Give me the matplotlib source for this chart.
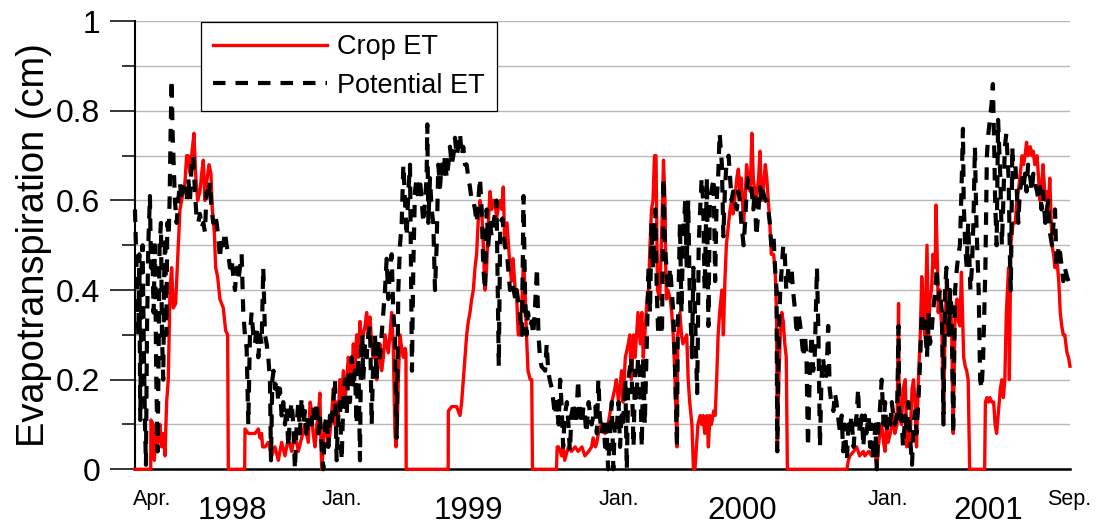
import matplotlib.pyplot as plt
from matplotlib.ticker import MultipleLocator, FormatStrFormatter

plt.rcParams['font.family'] = ['Liberation Sans', 'DejaVu Sans']

# x = days since 1 Apr 1998, y = evapotranspiration (cm)
pet_day = [0, 1.3, 2.7, 4.5, 5.8, 7.1, 8.9, 10.2, 11.6, 13.4, 14.7, 16, 17.8, 20, 21.4, 23.2, 24.9, 26.7, 28.5, 30.3,
           31.6, 32.9, 34.7, 36.1, 37.8, 39.2, 40.5, 41.9, 43.2, 45, 46.3, 47.6, 49, 50.3, 51.7, 53.4, 55.7, 57.9, 60.1, 62.3,
           64.6, 66.8, 69, 71.2, 73.5, 75.7, 77.9, 80.1, 82.4, 84.6, 86.8, 89.1, 91.3, 93.5, 95.7, 98, 100.2, 102.4, 104.6, 106.9,
           109.1, 111.3, 113.5, 115.8, 118, 120.2, 122.4, 124.7, 126.9, 129.1, 131.4, 133.6, 135.8, 138, 140.3, 142.5, 144.7, 146.9, 149.2, 151.4,
           153.6, 155.8, 158.1, 160.3, 162.5, 164.8, 167, 169.2, 171.4, 173.7, 175.9, 178.1, 180.3, 181.7, 183.5, 185.2, 187, 189.3, 191.5, 193.7,
           195.9, 198.1, 200.4, 202.6, 204.8, 207.1, 209.3, 211.5, 213.7, 216, 218.2, 220.4, 222.6, 224.9, 227.1, 229.3, 231.5,
           234, 236, 238, 240.5, 243, 245, 247, 249.4, 251.6, 253.8, 256, 258.3, 260.5, 262.7, 265, 267.2, 269.4, 271.6, 273.9, 276.1,
           278.3, 280.6, 282.8, 285, 287.2, 289.5, 291.7, 293.9, 296.1, 298.4, 300.6, 302, 303.7, 305, 307.3, 309.5, 311.7, 314, 316.2, 318.4,
           320.6, 322.9, 325.1, 327.3, 329.5, 331.8, 334, 336.2, 338.4, 340.7, 342.9, 345.1, 347.3, 349.6, 351.8, 354, 356.3, 358.5, 360.7, 362.9,
           365.2, 367.4, 368.7, 370, 371.8, 374, 376.3, 378.5, 380.7, 383, 385.2, 387.4, 389.6, 390.5, 391.9, 394.1, 396.3, 398.5, 400.8, 403,
           405.2, 407.5, 409.7, 411.9, 414.1, 416.4, 418.6, 420.8, 423, 425.3, 427.5, 429.7, 432, 434.2, 436.4, 438.6, 440.9, 443.1, 445.3, 447.5,
           449.8, 452, 454.2, 456.4, 458.7, 460.9, 463.1, 465.3, 467.6, 469.8, 472, 474.3, 476.5, 478.7,
           481, 483, 486, 488, 491, 494, 497, 501, 503, 506, 508, 510, 514, 517, 519, 521, 523, 525, 528, 530,
           532, 534, 537, 539, 541, 543, 548, 550, 552, 554, 557, 559, 561, 563, 566, 568, 570, 572, 574, 577,
           579, 581, 583, 586, 588, 590, 592, 594, 597, 599, 601, 603, 606, 610, 615, 617, 619, 621, 623, 626,
           628, 630, 632, 635, 637, 639, 641, 643, 646, 648, 650, 652, 655, 657, 659, 663, 666, 668, 670, 672,
           675, 677, 679, 681, 684, 686, 688, 690, 692, 695, 697, 699, 701, 704, 706, 708, 710, 712, 715, 717,
           719, 721, 724, 725,
           728, 730, 732, 735, 737, 739, 741, 744, 746, 748, 751, 752, 753, 755, 757, 759, 761, 764, 766, 768,
           770, 773, 775, 777, 779, 781, 784, 786, 788, 790, 793, 795, 797, 799, 801, 804, 806, 808, 810, 813,
           815, 817, 819, 822, 824, 826, 828, 830, 833, 835, 837, 839, 842, 844, 846, 848, 850, 853, 855, 857,
           858, 860, 862, 864, 866, 868, 870, 873, 875, 877, 879, 882, 884, 886, 888, 890, 893, 895, 897, 899,
           902, 904, 906, 908, 911, 913, 915, 917, 919, 922, 924, 926, 928, 930, 933, 935, 937, 939, 942, 944,
           946, 948, 951, 953, 955, 957, 960, 962, 964, 966, 968, 971, 973,
           975, 977, 980, 982, 984, 986, 989, 991, 993, 995, 997.5, 1000, 1002, 1004, 1006, 1009, 1011, 1013, 1015, 1018,
           1020, 1021, 1024, 1026, 1029, 1031, 1033, 1035, 1038, 1040, 1042, 1044, 1046.5, 1049, 1051, 1053, 1055, 1058, 1060, 1062,
           1064, 1066, 1069, 1071, 1073, 1075, 1078, 1080, 1082, 1084, 1087, 1089, 1091, 1093, 1095.5, 1098, 1100, 1102, 1104, 1106,
           1107, 1109, 1111, 1113, 1116, 1118, 1120, 1122, 1124, 1127, 1129, 1131, 1133, 1136, 1138, 1140, 1142, 1144.5, 1146, 1148,
           1149, 1151, 1153, 1156, 1158, 1160, 1162, 1164, 1167, 1169, 1170, 1172, 1173, 1176, 1178, 1180, 1182, 1185, 1187, 1189,
           1191, 1193, 1196, 1198, 1200, 1202, 1205, 1207, 1209, 1211, 1213, 1216, 1218, 1220, 1222, 1225, 1227, 1229, 1231, 1234,
           1236, 1238, 1240, 1242, 1245, 1247, 1249]
pet_et = [0.58, 0.5, 0.42, 0.3, 0.48, 0.11, 0.45, 0.5, 0.3, 0.1, 0.01, 0.3, 0.5, 0.61, 0.45, 0.5, 0.35, 0.5, 0.2, 0.04,
          0.25, 0.5, 0.55, 0.3, 0.2, 0.45, 0.52, 0.3, 0.55, 0.52, 0.6, 0.75, 0.87, 0.75, 0.68, 0.6, 0.55, 0.6, 0.64, 0.6,
          0.63, 0.62, 0.6, 0.65, 0.6, 0.68, 0.7, 0.62, 0.56, 0.55, 0.57, 0.54, 0.55, 0.53, 0.62, 0.6, 0.64, 0.58, 0.55, 0.57,
          0.55, 0.52, 0.47, 0.52, 0.5, 0.53, 0.5, 0.48, 0.45, 0.47, 0.43, 0.4, 0.45, 0.42, 0.45, 0.48, 0.35, 0.3, 0.27, 0.1,
          0.3, 0.35, 0.3, 0.28, 0.32, 0.25, 0.3, 0.28, 0.45, 0.3, 0.28, 0.25, 0.2, 0.02, 0.2, 0.22, 0.18, 0.2, 0.15, 0.18,
          0.12, 0.15, 0.1, 0.14, 0.05, 0.12, 0.15, 0.1, 0.0, 0.1, 0.15, 0.08, 0.16, 0.1, 0.13, 0.07, 0.12,
          0.12, 0.1, 0.14, 0.1, 0.15, 0.08, 0.12, 0.05, 0.0, 0.1, 0.12, 0.05, 0.12, 0.1, 0.15, 0.2, 0.02, 0.12, 0.15, 0.02,
          0.15, 0.2, 0.12, 0.22, 0.15, 0.25, 0.18, 0.22, 0.1, 0.25, 0.02, 0.28, 0.3, 0.2, 0.28, 0.25, 0.3, 0.32, 0.1, 0.25,
          0.3, 0.2, 0.28, 0.25, 0.3, 0.35, 0.4, 0.47, 0.38, 0.45, 0.48, 0.35, 0.3, 0.07, 0.4, 0.5, 0.55, 0.68, 0.6, 0.52,
          0.62, 0.68, 0.45, 0.22, 0.45, 0.62, 0.65, 0.6, 0.65, 0.6, 0.55, 0.6, 0.65, 0.77, 0.55, 0.65, 0.58, 0.55, 0.4, 0.5,
          0.68, 0.63, 0.68, 0.65, 0.7, 0.65, 0.68, 0.72, 0.68, 0.7, 0.74, 0.7, 0.72, 0.75, 0.7, 0.72, 0.68, 0.68, 0.65, 0.63,
          0.6, 0.6, 0.58, 0.55, 0.6, 0.65, 0.58, 0.45, 0.4, 0.58, 0.5, 0.55, 0.52, 0.55,
          0.57, 0.6, 0.23, 0.55, 0.56, 0.5, 0.48, 0.4, 0.42, 0.4, 0.38, 0.4, 0.35, 0.3, 0.61, 0.4, 0.3, 0.35, 0.32, 0.33,
          0.3, 0.35, 0.45, 0.3, 0.25, 0.23, 0.22, 0.28, 0.22, 0.2, 0.18, 0.15, 0.12, 0.15, 0.1, 0.2, 0.14, 0.05, 0.12, 0.15,
          0.1, 0.04, 0.12, 0.15, 0.1, 0.13, 0.2, 0.12, 0.1, 0.14, 0.12, 0.08, 0.15, 0.1, 0.14, 0.08, 0.2, 0.12, 0.08, 0.1,
          0.05, 0.1, 0.0, 0.1, 0.15, 0.0, 0.1, 0.08, 0.15, 0.05, 0.12, 0.1, 0.2, 0.0, 0.2, 0.25, 0.05, 0.22, 0.15, 0.25,
          0.2, 0.05, 0.25, 0.1, 0.3, 0.45, 0.35, 0.55, 0.45, 0.58, 0.4, 0.3, 0.35, 0.3, 0.65, 0.5, 0.45, 0.4, 0.45, 0.4,
          0.35, 0.25, 0.05, 0.3,
          0.55, 0.35, 0.5, 0.6, 0.45, 0.6, 0.4, 0.25, 0.45, 0.35, 0.17, 0.3, 0.5, 0.58, 0.65, 0.6, 0.4, 0.65, 0.32, 0.6,
          0.62, 0.65, 0.42, 0.6, 0.65, 0.75, 0.68, 0.52, 0.62, 0.68, 0.7, 0.65, 0.6, 0.62, 0.6, 0.58, 0.62, 0.6, 0.55, 0.5,
          0.55, 0.62, 0.65, 0.65, 0.62, 0.58, 0.62, 0.52, 0.58, 0.63, 0.6, 0.62, 0.6, 0.6, 0.58, 0.55, 0.5, 0.52, 0.45, 0.4,
          0.04, 0.3, 0.4, 0.45, 0.5, 0.48, 0.4, 0.45, 0.42, 0.45, 0.4, 0.35, 0.3, 0.35, 0.33, 0.3, 0.25, 0.3, 0.25, 0.05,
          0.25, 0.3, 0.22, 0.25, 0.45, 0.3, 0.05, 0.2, 0.25, 0.2, 0.22, 0.32, 0.18, 0.15, 0.13, 0.17, 0.15, 0.12, 0.08, 0.12,
          0.04, 0.1, 0.02, 0.1, 0.08, 0.12, 0.05, 0.1, 0.12, 0.18, 0.08, 0.12, 0.05,
          0.12, 0.08, 0.12, 0.05, 0.1, 0.02, 0.1, 0.0, 0.1, 0.13, 0.2, 0.1, 0.15, 0.08, 0.12, 0.1, 0.15, 0.12, 0.1, 0.12,
          0.32, 0.1, 0.12, 0.05, 0.12, 0.08, 0.15, 0.08, 0.01, 0.1, 0.13, 0.08, 0.15, 0.25, 0.35, 0.3, 0.33, 0.25, 0.35, 0.28,
          0.3, 0.35, 0.4, 0.45, 0.38, 0.4, 0.35, 0.1, 0.4, 0.45, 0.3, 0.4, 0.35, 0.08, 0.4, 0.45, 0.48, 0.5, 0.62, 0.76,
          0.6, 0.5, 0.45, 0.55, 0.4, 0.45, 0.55, 0.72, 0.55, 0.4, 0.2, 0.18, 0.25, 0.45, 0.7, 0.75, 0.78, 0.82, 0.86, 0.7,
          0.6, 0.5, 0.78, 0.65, 0.5, 0.6, 0.72, 0.75, 0.65, 0.45, 0.4, 0.72, 0.65, 0.68, 0.62, 0.55, 0.62, 0.65, 0.63, 0.66,
          0.62, 0.68, 0.65, 0.62, 0.66, 0.64, 0.62, 0.6, 0.63, 0.58, 0.62, 0.55, 0.58, 0.6, 0.53, 0.5, 0.55, 0.58, 0.45, 0.5,
          0.48, 0.45, 0.42, 0.45, 0.43, 0.42, 0.41]

crop_day = [0, 21, 21.4, 24.5, 25.8, 28.9, 31.2, 33.4, 35.6, 37.8, 40.1, 42.3, 44.5, 46.8, 49, 51.2, 54.3, 55.7, 57.9, 60.1,
            62.3, 66.8, 69, 71.2, 73.5, 75.7, 78.8, 81, 83.7, 86.8, 89.1, 91.3, 93.5, 95.7, 98.9, 101.5, 103.3, 106, 107.8, 110.4,
            113.5, 118, 121.1, 123.8, 124.7, 146.5, 147, 151.4, 155.8, 160.3, 164.8, 167, 169.2, 170.5, 173.7, 178.1, 182.6, 187, 191.5, 195.9,
            200.4, 204.8, 209.3, 213.7, 218.2, 222.6, 227.1, 231.5,
            234, 236, 238, 240.5, 243, 245, 247, 249.4, 251.6, 253.8, 256, 258.3, 260.5, 262.7, 265, 267.2, 269.4, 271.6, 273.9, 276.1,
            278.3, 280.6, 282.8, 285, 287.2, 289.5, 291.7, 293.9, 296.1, 298.4, 300.6, 302.8, 305, 307.3, 309.5, 311.7, 314, 316.2, 318.4, 320.6,
            322.9, 325.1, 327.3, 329.5, 331.8, 334, 336.2, 338.4, 340.7, 342.9, 345.1, 347.3, 348.7, 350.5, 351.8, 354, 356.3, 358.5, 360.7, 362,
            362.3, 418.4, 418.6, 423, 429.7, 434.2, 436.4, 438.6, 440.9, 443.1, 445.3, 447.5, 449.8, 452, 454.2, 456.4, 458.7, 460.9, 463.1, 465.3,
            467.6, 469.8, 472, 474.3, 476.5, 478.7,
            481, 483, 485, 488, 490, 492, 494, 497, 499, 501, 503, 505, 508, 510, 512, 514, 517, 519, 521, 523,
            525, 528, 530, 531, 563, 564, 566, 568, 570, 572, 574, 579, 583, 588, 592, 597, 601, 606, 610, 612,
            615, 617, 619, 623, 628, 632, 637, 641, 643, 646, 650, 652, 655, 659, 661, 663, 666, 668, 672, 675,
            677, 679, 681, 684, 686, 688, 690, 692, 694, 696, 697, 698, 701, 704, 706, 708, 709, 710, 712, 715,
            717, 719, 721, 724, 725,
            728, 730, 732, 737, 739, 741, 744, 746, 748, 750, 752, 755, 757, 759, 761, 764, 766, 768, 770, 773,
            775, 777, 779, 781, 784, 786, 788, 790, 793, 795, 797, 799, 801, 804, 806, 808, 810, 813, 815, 817,
            819, 822, 824, 826, 828, 830, 833, 835, 837, 839, 842, 844, 846, 848, 850, 853, 855, 857, 858, 860,
            862, 864, 866, 868, 870, 871.5, 951, 953, 955, 960, 964, 968, 973,
            975, 980, 984, 989, 991, 993, 995, 997.5, 1000, 1002, 1004, 1006, 1009, 1011, 1013, 1015, 1018, 1020, 1021, 1024,
            1026, 1029, 1031, 1033, 1035, 1038, 1040, 1042, 1044, 1046.5, 1049, 1051, 1053, 1055, 1058, 1060, 1062, 1064, 1066, 1069,
            1070, 1072, 1073, 1075, 1078, 1080, 1082, 1084, 1087, 1089, 1091, 1093, 1095.5, 1098, 1100, 1102, 1104, 1107, 1109, 1111,
            1113, 1115, 1135, 1136, 1138, 1140, 1142, 1144.5, 1147, 1149, 1151, 1153, 1156, 1158, 1160, 1162, 1164, 1167, 1168, 1170,
            1171, 1173, 1176, 1178, 1180, 1182, 1185, 1187, 1189, 1191, 1193, 1196, 1198, 1200, 1202, 1205, 1207, 1209, 1211, 1213,
            1216, 1218, 1220, 1222, 1225, 1227, 1229, 1231, 1234, 1236, 1238, 1240, 1242, 1245, 1247, 1249]
crop_et = [0, 0, 0.11, 0.1, 0.02, 0.1, 0.06, 0.1, 0.05, 0.08, 0.03, 0.15, 0.2, 0.4, 0.45, 0.36, 0.37, 0.42, 0.5, 0.58,
           0.6, 0.64, 0.7, 0.7, 0.66, 0.7, 0.75, 0.66, 0.6, 0.62, 0.66, 0.69, 0.6, 0.64, 0.68, 0.66, 0.58, 0.53, 0.45, 0.43,
           0.38, 0.36, 0.31, 0.3, 0, 0, 0.09, 0.08, 0.08, 0.08, 0.09, 0.07, 0.08, 0.05, 0.05, 0.06, 0.03, 0.05, 0.02, 0.06,
           0.03, 0.07, 0.04, 0.08, 0.04, 0.07, 0.1, 0.06,
           0.15, 0.13, 0.08, 0.05, 0.1, 0.12, 0.17, 0.0, 0.05, 0.1, 0.1, 0.05, 0.08, 0.12, 0.18, 0.1, 0.15, 0.12, 0.2, 0.15,
           0.22, 0.15, 0.2, 0.25, 0.22, 0.2, 0.28, 0.22, 0.3, 0.25, 0.33, 0.28, 0.3, 0.32, 0.35, 0.3, 0.34, 0.28, 0.25, 0.27,
           0.2, 0.25, 0.28, 0.22, 0.25, 0.3, 0.28, 0.26, 0.3, 0.35, 0.27, 0.08, 0.05, 0.1, 0.2, 0.3, 0.27, 0.25, 0.27, 0.26,
           0, 0, 0.13, 0.14, 0.14, 0.12, 0.15, 0.2, 0.25, 0.3, 0.33, 0.35, 0.38, 0.4, 0.45, 0.48, 0.56, 0.6, 0.58, 0.5,
           0.4, 0.45, 0.55, 0.62, 0.58, 0.6,
           0.6, 0.56, 0.58, 0.6, 0.58, 0.63, 0.5, 0.55, 0.5, 0.45, 0.42, 0.47, 0.4, 0.38, 0.3, 0.3, 0.38, 0.47, 0.4, 0.3,
           0.22, 0.2, 0.2, 0, 0, 0.05, 0.05, 0.04, 0.03, 0.05, 0.02, 0.05, 0.04, 0.05, 0.04, 0.05, 0.03, 0.04, 0.05, 0.07,
           0.05, 0.06, 0.08, 0.1, 0.08, 0.1, 0.15, 0.18, 0.2, 0.15, 0.22, 0.15, 0.25, 0.28, 0.3, 0.2, 0.3, 0.25, 0.35, 0.28,
           0.35, 0.25, 0.3, 0.38, 0.4, 0.5, 0.58, 0.6, 0.7, 0.7, 0.55, 0.4, 0.38, 0.55, 0.69, 0.6, 0.45, 0.38, 0.4, 0.38,
           0.35, 0.3, 0.22, 0.05, 0.3,
           0.35, 0.3, 0.28, 0.3, 0.2, 0.15, 0.1, 0, 0, 0.05, 0.1, 0.12, 0.1, 0.12, 0.08, 0.12, 0.05, 0.12, 0.1, 0.13,
           0.12, 0.2, 0.3, 0.35, 0.4, 0.3, 0.42, 0.5, 0.55, 0.58, 0.6, 0.57, 0.6, 0.65, 0.67, 0.62, 0.65, 0.55, 0.6, 0.68,
           0.65, 0.62, 0.75, 0.65, 0.62, 0.6, 0.65, 0.71, 0.6, 0.62, 0.68, 0.65, 0.6, 0.55, 0.48, 0.48, 0.45, 0.35, 0.04, 0.2,
           0.3, 0.35, 0.33, 0.28, 0.25, 0, 0, 0.02, 0.03, 0.04, 0.05, 0.03, 0.04,
           0.03, 0.04, 0.03, 0.04, 0.0, 0.05, 0.08, 0.1, 0.06, 0.04, 0.1, 0.06, 0.08, 0.1, 0.12, 0.08, 0.1, 0.37, 0.12, 0.1,
           0.18, 0.2, 0.05, 0.1, 0.05, 0.18, 0.2, 0.15, 0.05, 0.2, 0.3, 0.43, 0.35, 0.3, 0.5, 0.3, 0.38, 0.4, 0.48, 0.45,
           0.59, 0.45, 0.35, 0.4, 0.3, 0.1, 0.3, 0.42, 0.35, 0.4, 0.3, 0.08, 0.35, 0.38, 0.33, 0.32, 0.44, 0.25, 0.23, 0.22,
           0.2, 0, 0, 0.15, 0.16, 0.15, 0.16, 0.15, 0.15, 0.1, 0.08, 0.12, 0.18, 0.2, 0.16, 0.2, 0.35, 0.45, 0.2, 0.5,
           0.52, 0.55, 0.55, 0.6, 0.62, 0.65, 0.7, 0.68, 0.7, 0.73, 0.7, 0.72, 0.7, 0.71, 0.68, 0.7, 0.65, 0.6, 0.63, 0.68,
           0.6, 0.62, 0.58, 0.65, 0.5, 0.48, 0.45, 0.48, 0.42, 0.35, 0.32, 0.3, 0.3, 0.26, 0.25, 0.23]

month_labels = ['Apr.', 'Jan.', 'Jan.', 'Jan.', 'Sep.']
month_pos = [23, 276, 646, 1006, 1248]
year_labels = ['1998', '1999', '2000', '2001']
year_pos = [130, 445, 811, 1140]

fig = plt.figure(figsize=(10.99, 5.27), dpi=100)
ax = fig.add_axes([0.1228, 0.1095, 0.8508, 0.8501])

ax.plot(crop_day, crop_et, color='#ff0000', lw=2.4, label='Crop ET', zorder=3, clip_on=False)
ax.plot(pet_day, pet_et, color='black', lw=3.0, ls=(0, (3, 2.4)), label='Potential ET', zorder=4, clip_on=False)

ax.set_xlim(0, 1249)
ax.set_ylim(0, 1)
ax.set_xticks([])
ax.yaxis.set_major_locator(MultipleLocator(0.2))
ax.yaxis.set_minor_locator(MultipleLocator(0.1))
ax.yaxis.set_major_formatter(FormatStrFormatter('%g'))
ax.tick_params(axis='y', which='major', length=18, width=1.1, pad=7, labelsize=23)
ax.tick_params(axis='y', which='minor', length=9.5, width=1.1)
ax.grid(which='both', axis='y', color='#b8b8b8', lw=1.0)
ax.set_axisbelow(True)

for s in ['top', 'right']:
    ax.spines[s].set_visible(False)
ax.spines['left'].set_linewidth(1.5)
ax.spines['bottom'].set_linewidth(1.8)

ax.set_ylabel('Evapotranspiration (cm)', fontsize=27.4, labelpad=3)

# month and year names under the axis
for m, p in zip(month_labels, month_pos):
    ax.text(p, -0.0797, m, transform=ax.get_xaxis_transform(), ha='center', va='baseline', fontsize=15.5)
for y, p in zip(year_labels, year_pos):
    ax.text(p, -0.1116, y, transform=ax.get_xaxis_transform(), ha='center', va='baseline', fontsize=22.5)

leg = ax.legend(loc='upper left', bbox_to_anchor=(0.0706, 0.998), fontsize=19.5, handlelength=4.2,
                handletextpad=0.36, borderpad=0.45, labelspacing=0.45, borderaxespad=0,
                fancybox=False, edgecolor='black', framealpha=1)
leg.get_frame().set_linewidth(0.9)

fig.savefig('out.png', dpi=100)
